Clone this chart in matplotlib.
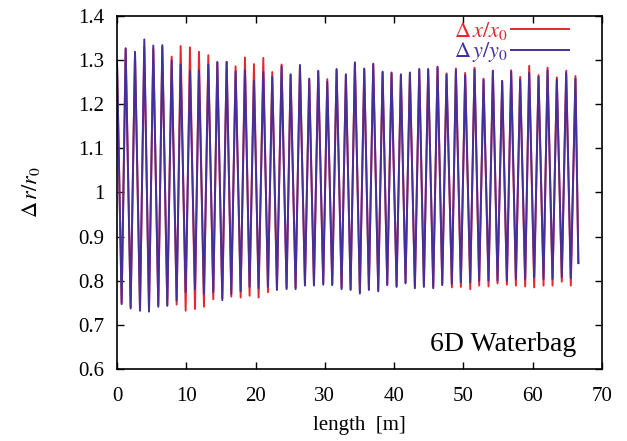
import numpy as np
import matplotlib
matplotlib.use("Agg")
import matplotlib.pyplot as plt

plt.rcParams['font.family'] = ['Liberation Serif', 'DejaVu Serif']
plt.rcParams['mathtext.fontset'] = 'stix'

# extrema (length in m)
trough_x = [0.67, 1.97, 3.32, 4.62, 5.96, 7.26, 8.61, 9.91, 11.26, 12.55,
            13.90, 15.20, 16.50, 17.85, 19.14, 20.44, 21.79, 23.09,
            24.48, 25.78, 27.13, 28.43, 29.77, 31.07, 32.42, 33.72, 35.06,
            36.36, 37.71, 39.01, 40.36, 41.65, 43.00, 44.30, 45.65, 46.95,
            48.34, 49.64, 50.99, 52.28, 53.63, 54.93, 56.28, 57.58, 58.92,
            60.22, 61.57, 62.87, 64.21, 65.51]
peak_x = [1.25, 2.60, 3.94, 5.24, 6.54, 7.89, 9.19, 10.53, 11.83, 13.18,
          14.48, 15.83, 17.12, 18.47, 19.77, 21.12, 22.41,
          23.76, 25.06, 26.41, 27.75, 29.05, 30.35, 31.70, 33.04, 34.34,
          35.69, 36.99, 38.34, 39.63, 40.98, 42.28, 43.63, 44.92, 46.27,
          47.57, 48.92, 50.26, 51.61, 52.91, 54.26, 55.60, 56.90, 58.20,
          59.50, 60.85, 62.15, 63.49, 64.84, 66.18]

dy_trough = [0.747, 0.737, 0.732, 0.730, 0.741, 0.743, 0.755, 0.774, 0.781,
             0.770, 0.774, 0.756, 0.770, 0.776, 0.786, 0.783, 0.786, 0.779,
             0.781, 0.781, 0.789, 0.789, 0.791, 0.790, 0.781, 0.779, 0.771,
             0.779, 0.776, 0.790, 0.786, 0.794, 0.783, 0.786, 0.783, 0.790,
             0.793, 0.796, 0.796, 0.800, 0.800, 0.800, 0.800, 0.804, 0.804,
             0.808, 0.804, 0.804, 0.808, 0.806]
dx_trough = [0.750, 0.740, 0.735, 0.735, 0.744, 0.745, 0.746, 0.732, 0.736,
             0.741, 0.758, 0.760, 0.764, 0.762, 0.766, 0.762, 0.774, 0.781,
             0.784, 0.784, 0.792, 0.792, 0.794, 0.792, 0.784, 0.781, 0.774,
             0.781, 0.779, 0.792, 0.788, 0.796, 0.786, 0.788, 0.786, 0.792,
             0.785, 0.786, 0.781, 0.789, 0.787, 0.794, 0.791, 0.789, 0.787,
             0.785, 0.789, 0.789, 0.798, 0.789]
dy_peak = [1.327, 1.319, 1.347, 1.333, 1.334, 1.300, 1.290, 1.276, 1.277,
           1.290, 1.295, 1.296, 1.275, 1.277, 1.253, 1.273, 1.262,
           1.286, 1.268, 1.289, 1.258, 1.276, 1.251, 1.280, 1.268, 1.295,
           1.281, 1.292, 1.274, 1.272, 1.268, 1.272, 1.280, 1.280, 1.285,
           1.267, 1.277, 1.266, 1.279, 1.255, 1.276, 1.253, 1.274, 1.256,
           1.271, 1.262, 1.277, 1.256, 1.271, 1.258]
dx_peak = [1.325, 1.316, 1.330, 1.325, 1.330, 1.308, 1.332, 1.329, 1.319,
           1.311, 1.296, 1.296, 1.286, 1.306, 1.291, 1.305, 1.273,
           1.290, 1.266, 1.287, 1.256, 1.274, 1.257, 1.278, 1.266, 1.293,
           1.279, 1.290, 1.272, 1.270, 1.266, 1.270, 1.278, 1.278, 1.283,
           1.270, 1.281, 1.271, 1.283, 1.258, 1.276, 1.253, 1.277, 1.262,
           1.287, 1.266, 1.283, 1.261, 1.276, 1.264]
x_start, x_end = 0.0, 66.6
dx_start, dx_end = 1.30, 0.84
dy_start, dy_end = 1.30, 0.84


def build(start, troughs, peaks, end):
	x = np.empty(2 * len(trough_x))
	x[0::2] = trough_x
	x[1::2] = peak_x
	y = np.empty(2 * len(troughs))
	y[0::2] = troughs
	y[1::2] = peaks
	return (np.concatenate([[x_start], x, [x_end]]),
	        np.concatenate([[start], y, [end]]))


RED = '#e8262e'
BLUE = '#45309a'

fig = plt.figure(figsize=(6.27, 4.41), dpi=100)
ax = fig.add_axes([0.1866, 0.1633, 0.7734, 0.8004])

xs, ys = build(dx_start, dx_trough, dx_peak, dx_end)
ax.plot(xs, ys, color=RED, lw=1.4, label=r'$\Delta\, x/x_0$')
xs, ys = build(dy_start, dy_trough, dy_peak, dy_end)
ax.plot(xs, ys, color=BLUE, lw=1.4, label=r'$\Delta\, y/y_0$')

ax.set_xlim(0, 70)
ax.set_ylim(0.6, 1.4)
ax.set_xticks(np.arange(0, 71, 10))
ax.set_yticks(np.arange(0.6, 1.41, 0.1))
ax.set_yticklabels(['0.6', '0.7', '0.8', '0.9', '1', '1.1', '1.2', '1.3', '1.4'])
ax.tick_params(direction='in', top=True, right=True, length=5, width=1,
               labelsize=15)
ax.tick_params(axis='x', pad=13)
ax.tick_params(axis='y', pad=9)
for s in ax.spines.values():
	s.set_linewidth(1.2)

ax.set_xlabel('length  [m]', fontsize=15, labelpad=7)
ax.set_ylabel(r'$\Delta\, r/r_0$', fontsize=16, labelpad=26)

ax.legend(loc='upper right', bbox_to_anchor=(0.95, 1.015), frameon=False,
          markerfirst=False, labelcolor='linecolor', fontsize=16,
          handlelength=2.6, handletextpad=0.15, borderaxespad=0.0,
          labelspacing=-0.05)

ax.text(0.948, 0.035, '6D Waterbag', transform=ax.transAxes,
        ha='right', va='bottom', fontsize=20)

fig.savefig('out.png', dpi=100)
